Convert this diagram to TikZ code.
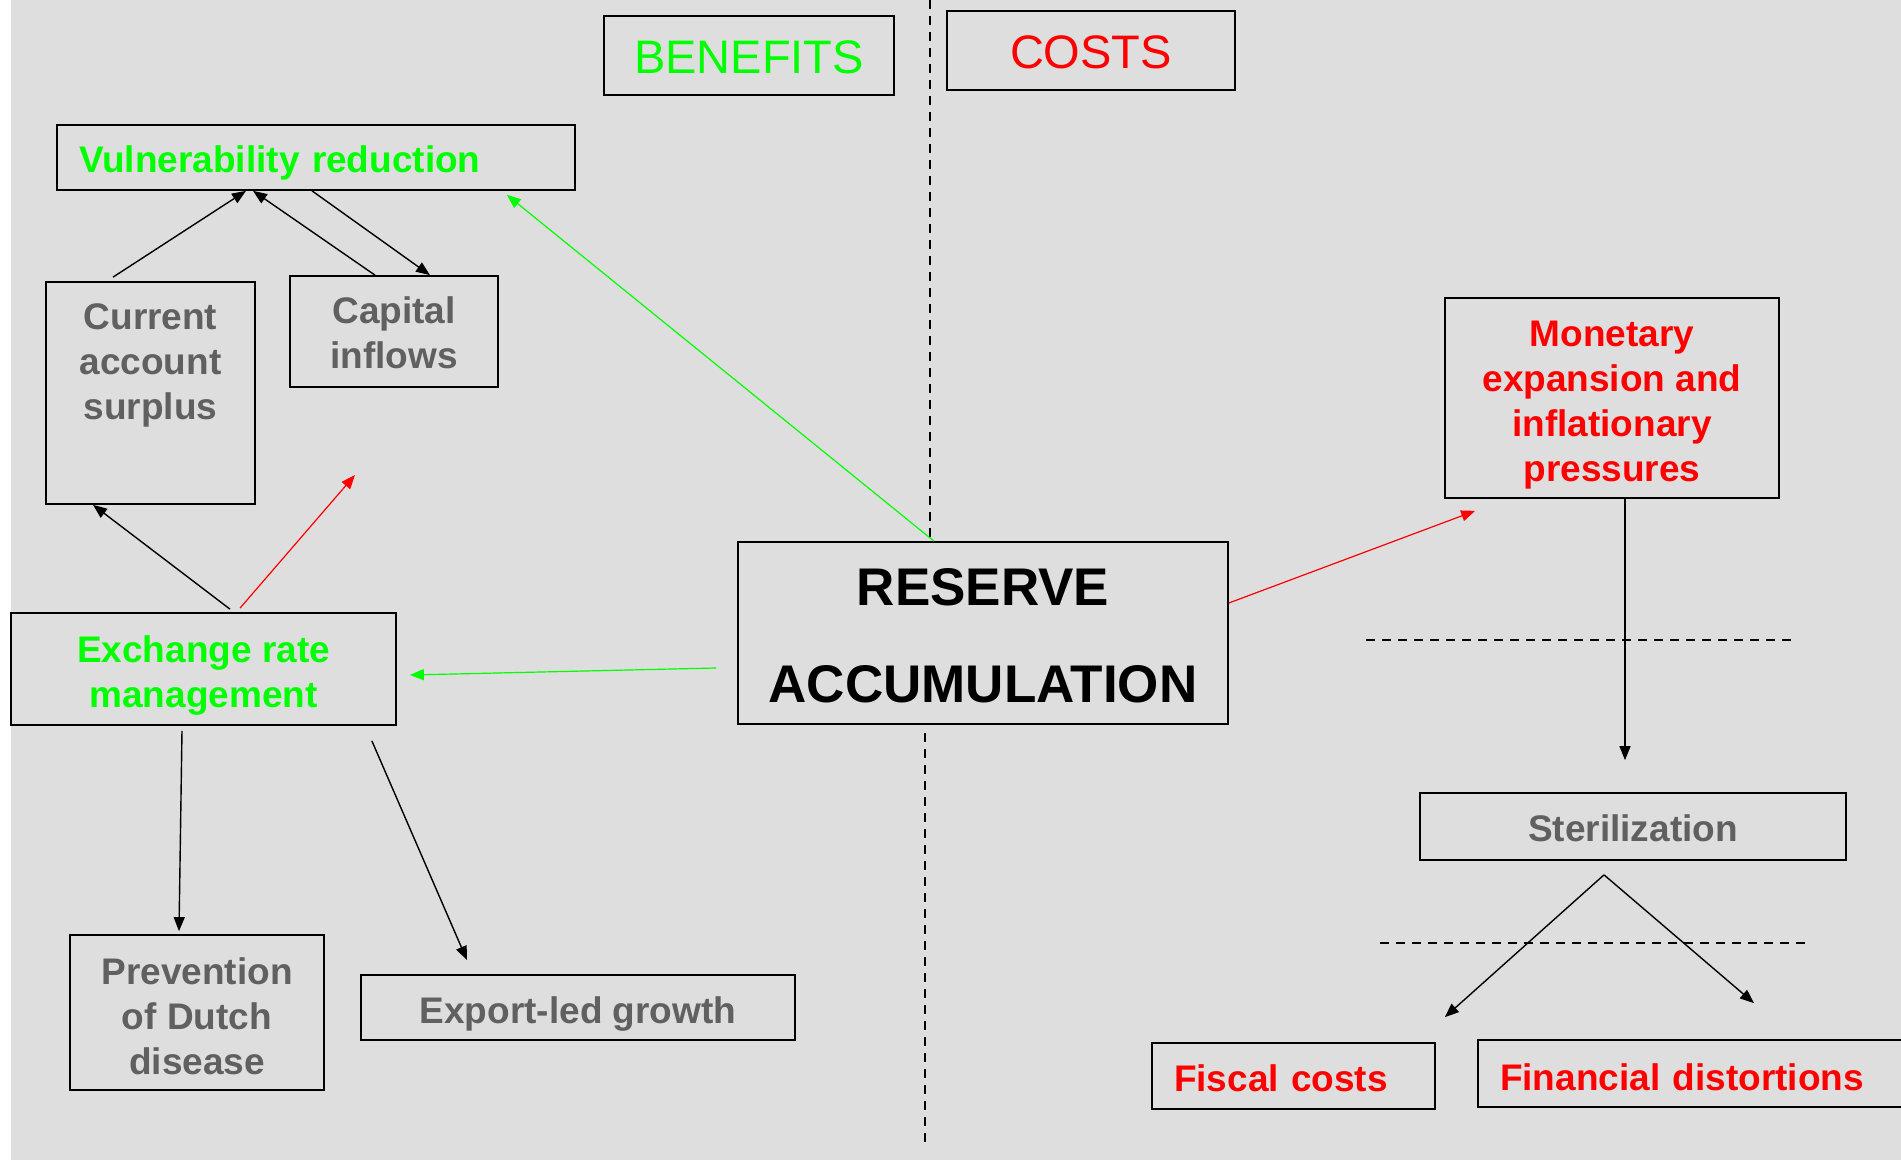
\documentclass[tikz,border=0pt]{standalone}
\usepackage{fontspec}
\setmainfont{Liberation Sans}
\usetikzlibrary{arrows.meta}
\definecolor{bgGray}{RGB}{222,222,222}
\definecolor{txtGray}{RGB}{96,96,96}
\definecolor{benGreen}{RGB}{0,255,0}
\definecolor{costRed}{RGB}{255,0,0}
\newcommand{\lift}[1]{\rule{0pt}{#1}}
\begin{document}
\begin{tikzpicture}[x=0.5pt, y=-0.5pt,
       box/.style={draw=black, line width=0.85pt, rectangle, inner sep=0pt, align=center},
       boldtxt/.style={font=\fontsize{18.5}{22.5}\selectfont\bfseries},
       headtxt/.style={font=\fontsize{23.5}{28}\selectfont},
       bigtxt/.style={font=\fontsize{26.5}{48.5}\selectfont\bfseries},
       leftbox/.style={box, align=left, inner xsep=11pt},
       arr/.style={-{Triangle[length=7pt,width=5.5pt]}, line width=0.7pt},
       benarr/.style={arr, draw=benGreen, fill=benGreen, line width=0.6pt},
       costarr/.style={arr, draw=costRed, fill=costRed, line width=0.6pt},
       divider/.style={line width=0.6pt, dash pattern=on 4.5pt off 3.5pt}]
\useasboundingbox (0,0) rectangle (1901,1160);
\fill[white] (0,0) rectangle (1901,1160);
\fill[bgGray] (11,0) rectangle (1901,1160);

\draw[divider] (930,0) -- (930,542);
\draw[divider] (925,733) -- (925,1142);
\draw[divider] (1366,640) -- (1794,640);
\draw[divider] (1380,943) -- (1806,943);

\node[box, headtxt, text=benGreen, minimum width=145pt, minimum height=39.5pt] (ben) at (749,55.5) {\lift{18pt}BENEFITS};
\node[box, headtxt, text=costRed, minimum width=144pt, minimum height=39.5pt] (cost) at (1091,50.5) {\lift{18pt}COSTS};

\node[leftbox, boldtxt, text=benGreen, text width=237pt, minimum height=32.5pt] (vul) at (316,157.5) {\lift{18.5pt}Vulnerability reduction};
\node[box, minimum width=104.5pt, minimum height=111pt] (cas) at (150.5,393) {};
\node[boldtxt, text=txtGray, align=center, inner sep=0pt, anchor=north] (castxt) at ([yshift=-11.2pt]cas.north) {Current\\account\\surplus};
\node[box, boldtxt, text=txtGray, minimum width=104pt, minimum height=55.5pt] (cap) at (394,331.5) {\lift{14.7pt}Capital\\inflows};
\node[box, boldtxt, text=benGreen, minimum width=192.5pt, minimum height=56pt] (exr) at (203.5,669) {\lift{19.5pt}Exchange rate\\management};
\node[box, boldtxt, text=txtGray, minimum width=127pt, minimum height=77.5pt] (pdd) at (197,1012.5) {\lift{17pt}Prevention\\of Dutch\\disease};
\node[box, boldtxt, text=txtGray, minimum width=217pt, minimum height=32.5pt] (exp) at (578,1007.5) {\lift{19.5pt}Export-led growth};

\node[box, bigtxt, minimum width=245pt, minimum height=91pt] (res) at (983,633) {\lift{21.4pt}RESERVE\\ACCUMULATION};

\node[box, boldtxt, text=costRed, minimum width=167pt, minimum height=100pt] (mon) at (1612,398) {\lift{19.5pt}Monetary\\expansion and\\inflationary\\pressures};
\node[box, boldtxt, text=txtGray, minimum width=213pt, minimum height=33.5pt] (ster) at (1633,826.5) {\lift{14.7pt}Sterilization};
\node[leftbox, boldtxt, text=costRed, text width=119.5pt, minimum height=33pt] (fis) at (1293.5,1076) {\lift{16pt}Fiscal costs};
\node[leftbox, boldtxt, text=costRed, text width=191.5pt, minimum height=33.5pt] (fin) at (1691.5,1073.5) {\lift{17pt}Financial distortions};

\coordinate (redend) at (355,475);

\draw[arr] ([xshift=-18.75pt,yshift=2pt]cas.north) -- ([xshift=-35pt]vul.south);
\draw[arr] ([xshift=-9.5pt]cap.north) -- ([xshift=-31.5pt]vul.south);
\draw[arr] ([xshift=-2pt]vul.south) -- ([xshift=18pt]cap.north);
\draw[benarr] ([xshift=-24.5pt]res.north) -- ([xshift=-34.5pt,yshift=-2pt]vul.south east);
\draw[arr] ([xshift=13.25pt,yshift=1.5pt]exr.north) -- ([xshift=-28.75pt]cas.south);
\draw[costarr] ([xshift=18.25pt,yshift=2pt]exr.north) -- (redend);
\draw[benarr] ([xshift=-10.5pt,yshift=-17.5pt]res.west) -- ([xshift=6.5pt,yshift=-3pt]exr.east);
\draw[costarr] ([yshift=15pt]res.east) -- ([xshift=15.5pt,yshift=-6pt]mon.south west);
\draw[arr] ([xshift=6.5pt]mon.south) -- ([xshift=-4pt,yshift=16pt]ster.north);
\draw[arr] ([xshift=-14.5pt,yshift=-7pt]ster.south) -- ([xshift=4.5pt,yshift=12.5pt]fis.north east);
\draw[arr] ([xshift=-14.5pt,yshift=-7pt]ster.south) -- ([xshift=31.25pt,yshift=18pt]fin.north);
\draw[arr] ([xshift=-10.75pt,yshift=-2.5pt]exr.south) -- ([xshift=-9pt,yshift=1.5pt]pdd.north);
\draw[arr] ([xshift=-12.5pt,yshift=-7.5pt]exr.south east) -- ([xshift=-55.5pt,yshift=7pt]exp.north);
\end{tikzpicture}
\end{document}
